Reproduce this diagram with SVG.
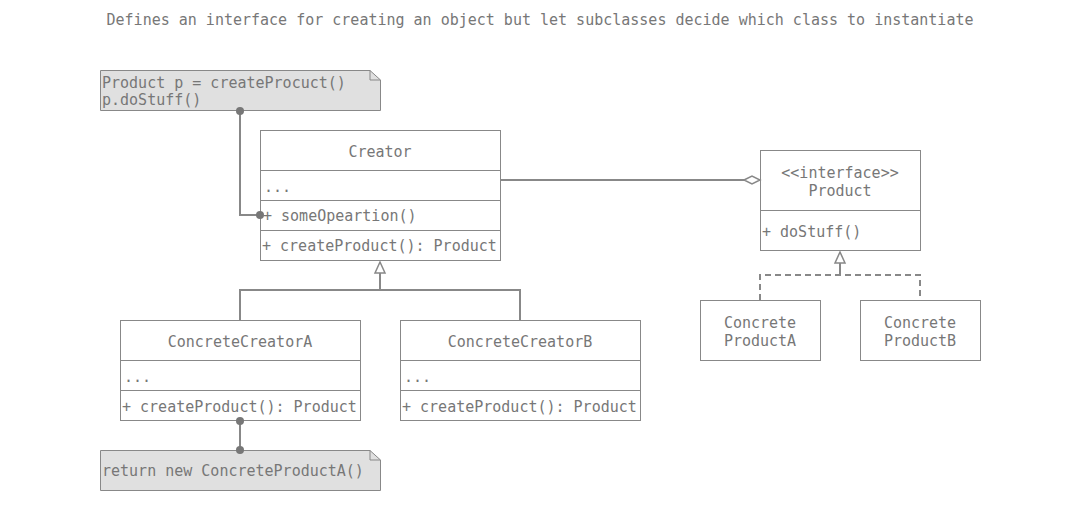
<svg xmlns="http://www.w3.org/2000/svg" width="1081" height="511" viewBox="0 0 1081 511">
<style>
text{font-family:"DejaVu Sans Mono","Liberation Mono",monospace;font-size:15px;fill:#777}
.c{text-anchor:middle}
.box{fill:#fff;stroke:#888;stroke-width:1}
.note{fill:#e0e0e0;stroke:#888;stroke-width:1}
.ln{fill:none;stroke:#888;stroke-width:2}
.dl{fill:none;stroke:#888;stroke-width:2;stroke-dasharray:6 4}
.sep{stroke:#888;stroke-width:1}
.dot{fill:#777}
</style>
<rect width="1081" height="511" fill="#fff"/>
<text x="540" y="25" class="c">Defines an interface for creating an object but let subclasses decide which class to instantiate</text>

<g id="note1">
<path class="note" d="M100.5,70.5 H370 L380.5,80 V110.5 H100.5 Z"/>
<path d="M370,70.5 V80 H380.5" fill="none" stroke="#888" stroke-width="1"/>
<text x="102" y="88">Product p = createProcuct()</text>
<text x="102" y="105">p.doStuff()</text>
</g>

<g id="creator">
<rect class="box" x="260.5" y="130.5" width="240" height="130"/>
<line class="sep" x1="260" y1="170.5" x2="500" y2="170.5"/>
<line class="sep" x1="260" y1="200.5" x2="500" y2="200.5"/>
<line class="sep" x1="260" y1="230.5" x2="500" y2="230.5"/>
<text x="380" y="157" class="c">Creator</text>
<text x="264" y="192">...</text>
<text x="263" y="221">+ someOpeartion()</text>
<text x="262" y="251">+ createProduct(): Product</text>
</g>

<g id="product">
<rect class="box" x="760.5" y="150.5" width="160" height="100"/>
<line class="sep" x1="760" y1="210.5" x2="920" y2="210.5"/>
<text x="840" y="178" class="c">&lt;&lt;interface&gt;&gt;</text>
<text x="840" y="196" class="c">Product</text>
<text x="762" y="237">+ doStuff()</text>
</g>

<g id="concreteCreatorA">
<rect class="box" x="120.5" y="320.5" width="240" height="100"/>
<line class="sep" x1="120" y1="360.5" x2="360" y2="360.5"/>
<line class="sep" x1="120" y1="390.5" x2="360" y2="390.5"/>
<text x="240" y="347" class="c">ConcreteCreatorA</text>
<text x="124" y="382">...</text>
<text x="122" y="412">+ createProduct(): Product</text>
</g>

<g id="concreteCreatorB">
<rect class="box" x="400.5" y="320.5" width="240" height="100"/>
<line class="sep" x1="400" y1="360.5" x2="640" y2="360.5"/>
<line class="sep" x1="400" y1="390.5" x2="640" y2="390.5"/>
<text x="520" y="347" class="c">ConcreteCreatorB</text>
<text x="404" y="382">...</text>
<text x="402" y="412">+ createProduct(): Product</text>
</g>

<g id="note2">
<path class="note" d="M100.5,450.5 H370 L380.5,460 V490.5 H100.5 Z"/>
<path d="M370,450.5 V460 H380.5" fill="none" stroke="#888" stroke-width="1"/>
<text x="102" y="476">return new ConcreteProductA()</text>
</g>

<g id="concreteProductA">
<rect class="box" x="700.5" y="300.5" width="120" height="60"/>
<text x="760" y="328" class="c">Concrete</text>
<text x="760" y="346" class="c">ProductA</text>
</g>

<g id="concreteProductB">
<rect class="box" x="860.5" y="300.5" width="120" height="60"/>
<text x="920" y="328" class="c">Concrete</text>
<text x="920" y="346" class="c">ProductB</text>
</g>

<g id="connectors">
<polyline class="ln" points="240,111 240,215 260,215"/>
<circle class="dot" cx="240" cy="111" r="4"/>
<circle class="dot" cx="260" cy="215" r="4"/>
<line class="ln" x1="501" y1="180" x2="745" y2="180"/>
<polygon points="744,180 752,176 760,180 752,184" fill="#fff" stroke="#888" stroke-width="1.5"/>
<polyline class="ln" points="240,320 240,290 520,290 520,320"/>
<line class="ln" x1="380" y1="290" x2="380" y2="272"/>
<polygon points="380,262 375,273 385,273" fill="#fff" stroke="#888" stroke-width="1.5"/>
<line class="ln" x1="240" y1="421" x2="240" y2="450"/>
<circle class="dot" cx="240" cy="421" r="4"/>
<circle class="dot" cx="240" cy="450" r="4"/>
<polyline class="dl" points="760,300 760,275 920,275 920,300"/>
<line class="ln" x1="840" y1="275" x2="840" y2="263"/>
<polygon points="840,252 835,263 845,263" fill="#fff" stroke="#888" stroke-width="1.5"/>
</g>
</svg>
